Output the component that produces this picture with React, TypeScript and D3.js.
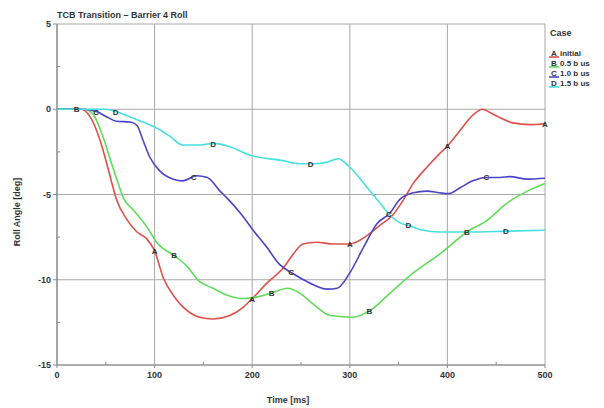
import React from "react";
import * as d3 from "d3";

const title = "TCB Transition \u2013 Barrier 4 Roll";
const xTicks = [0, 100, 200, 300, 400, 500];
const xMinor = [50, 150, 250, 350, 450];
const yTicks = [5, 0, -5, -10, -15];
const yMinor = [2.5, -2.5, -7.5, -12.5];

const tA = [0, 25, 34, 44, 52, 57, 61, 72, 82, 92, 100, 109, 119, 133, 146, 160, 177, 191, 201, 215, 232, 242, 252, 266, 283, 300, 318, 331, 344, 354, 365, 379, 392, 401, 413, 426, 436, 444, 454, 467, 485, 500];
const vA = [0, 0, -0.45, -1.8, -3.4, -4.5, -5.3, -6.5, -7.2, -7.6, -8.3, -9.9, -10.9, -11.8, -12.2, -12.3, -12.1, -11.6, -11.05, -10.2, -9.3, -8.5, -7.9, -7.8, -7.9, -7.9, -7.4, -6.8, -6.2, -5.4, -4.35, -3.4, -2.6, -2.1, -1.24, -0.35, 0, -0.2, -0.5, -0.8, -0.9, -0.85];

const tB = [0, 28, 37, 47, 56, 63, 68, 78, 92, 102, 123, 133, 146, 160, 174, 188, 201, 221, 236, 249, 262, 280, 303, 321, 341, 365, 392, 420, 441, 461, 482, 500];
const vB = [0, 0, -0.3, -1.6, -3.2, -4.4, -5.2, -5.9, -6.9, -7.8, -8.7, -9.2, -10.1, -10.5, -10.9, -11.1, -11.05, -10.75, -10.5, -10.8, -11.4, -12.1, -12.2, -11.8, -10.8, -9.6, -8.5, -7.2, -6.5, -5.5, -4.8, -4.35];

const tC = [0, 27, 41, 51, 61, 75, 82, 88, 95, 105, 119, 129, 143, 154, 167, 174, 188, 201, 215, 228, 242, 256, 277, 287, 300, 314, 328, 341, 351, 365, 379, 392, 401, 413, 426, 440, 454, 464, 482, 500];
const vC = [0, 0, -0.15, -0.45, -0.7, -0.75, -0.95, -1.8, -2.8, -3.6, -4.1, -4.2, -3.9, -4.0, -4.8, -5.2, -6.1, -7.1, -8.1, -9.1, -9.65, -10.1, -10.55, -10.5, -9.6, -8.1, -6.7, -6.1, -5.3, -4.9, -4.8, -4.9, -4.95, -4.6, -4.2, -4.0, -4.0, -3.95, -4.1, -4.05];

const tD = [0, 50, 61, 75, 88, 102, 116, 129, 143, 162, 177, 198, 230, 249, 262, 277, 288, 300, 318, 331, 341, 351, 362, 375, 392, 420, 461, 500];
const vD = [0, 0, -0.15, -0.45, -0.75, -1.1, -1.6, -2.1, -2.1, -2.0, -2.2, -2.7, -3.0, -3.2, -3.2, -3.1, -2.9, -3.4, -4.6, -5.5, -6.2, -6.65, -6.85, -7.1, -7.2, -7.2, -7.15, -7.1];

const letters = ["A", "B", "C", "D"];
const names = ["initial", "0.5 b us", "1.0 b us", "1.5 b us"];
const colors = ["#e0504a", "#5fdc5a", "#4a44c6", "#45e0e0"];
const labelTimes = [
  [100, 200, 300, 400, 500],
  [20, 120, 220, 320, 420],
  [40, 140, 240, 340, 440],
  [60, 160, 260, 360, 460],
];
const seriesT = [tA, tB, tC, tD];
const seriesV = [vA, vB, vC, vD];

const FONT = "'Liberation Sans', Arial, sans-serif";
const TXT = "#333";

function interp(ts: number[], vs: number[], t: number) {
  const i = Math.max(1, Math.min(ts.length - 1, d3.bisectLeft(ts, t)));
  const t0 = ts[i - 1], t1 = ts[i];
  const f = (t - t0) / (t1 - t0);
  return vs[i - 1] + f * (vs[i] - vs[i - 1]);
}

export default function App() {
  const x = d3.scaleLinear().domain([0, 500]).range([57, 545]);
  const y = d3.scaleLinear().domain([-15, 5]).range([365, 24]);
  const line = d3
    .line<[number, number]>()
    .x((d) => x(d[0]))
    .y((d) => y(d[1]))
    .curve(d3.curveMonotoneX);

  return (
    <svg
      width={604}
      height={408}
      style={{ position: "absolute", left: 0, top: 0, background: "#fff" }}
      fontFamily={FONT}
    >
      <rect x={0} y={0} width={604} height={408} fill="#fff" />
      {/* grid */}
      {xTicks.map((t) => (
        <line key={"gx" + t} x1={x(t)} x2={x(t)} y1={y(5)} y2={y(-15)} stroke="#a8a8a8" strokeWidth={1} />
      ))}
      {yTicks.map((t) => (
        <line key={"gy" + t} x1={x(0)} x2={x(500)} y1={y(t)} y2={y(t)} stroke="#a8a8a8" strokeWidth={1} />
      ))}
      {/* axes */}
      <line x1={x(0)} x2={x(0)} y1={y(5)} y2={y(-15)} stroke="#888" strokeWidth={1.2} />
      <line x1={x(0)} x2={x(500)} y1={y(-15)} y2={y(-15)} stroke="#888" strokeWidth={1.2} />
      {yTicks.map((t) => (
        <g key={"yt" + t}>
          <line x1={x(0) - 4} x2={x(0)} y1={y(t)} y2={y(t)} stroke="#888" />
          <text x={x(0) - 6} y={y(t) + 3} fontSize={9} fontWeight="bold" fill={TXT} textAnchor="end">
            {t}
          </text>
        </g>
      ))}
      {yMinor.map((t) => (
        <line key={"ym" + t} x1={x(0)} x2={x(0) + 3} y1={y(t)} y2={y(t)} stroke="#888" />
      ))}
      {xTicks.map((t) => (
        <g key={"xt" + t}>
          <line x1={x(t)} x2={x(t)} y1={y(-15)} y2={y(-15) + 3} stroke="#888" />
          <text x={x(t)} y={y(-15) + 13} fontSize={9} fontWeight="bold" fill={TXT} textAnchor="middle">
            {t}
          </text>
        </g>
      ))}
      {xMinor.map((t) => (
        <line key={"xm" + t} x1={x(t)} x2={x(t)} y1={y(-15)} y2={y(-15) - 3} stroke="#888" />
      ))}
      {/* series */}
      {seriesT.map((ts, i) => (
        <path
          key={"s" + i}
          d={line(ts.map((t, j) => [t, seriesV[i][j]] as [number, number])) || ""}
          fill="none"
          stroke={colors[i]}
          strokeWidth={1.6}
        />
      ))}
      {seriesT.map((ts, i) =>
        labelTimes[i].map((t) => (
          <text
            key={"l" + i + t}
            x={x(t)}
            y={y(interp(ts, seriesV[i], t)) + 3}
            fontSize={8}
            fontWeight="bold"
            fill="#333"
            textAnchor="middle"
          >
            {letters[i]}
          </text>
        ))
      )}
      {/* titles */}
      <text x={57} y={18} fontSize={9} fontWeight="bold" fill={TXT}>
        {title}
      </text>
      <text x={288} y={403} fontSize={9} fontWeight="bold" fill={TXT} textAnchor="middle">
        Time [ms]
      </text>
      <text
        transform={`translate(20,212) rotate(-90)`}
        fontSize={9}
        fontWeight="bold"
        fill={TXT}
        textAnchor="middle"
      >
        Roll Angle [deg]
      </text>
      {/* legend */}
      <text x={550} y={36} fontSize={9} fontWeight="bold" fill={TXT}>
        Case
      </text>
      {letters.map((l, i) => (
        <g key={"lg" + i}>
          <line x1={549} x2={559} y1={57 + i * 10} y2={57 + i * 10} stroke={colors[i]} strokeWidth={1.6} />
          <text x={554} y={56 + i * 10} fontSize={8} fontWeight="bold" fill={TXT} textAnchor="middle">
            {l}
          </text>
          <text x={560} y={56 + i * 10} fontSize={8} fontWeight="bold" fill={TXT}>
            {names[i]}
          </text>
        </g>
      ))}
    </svg>
  );
}
